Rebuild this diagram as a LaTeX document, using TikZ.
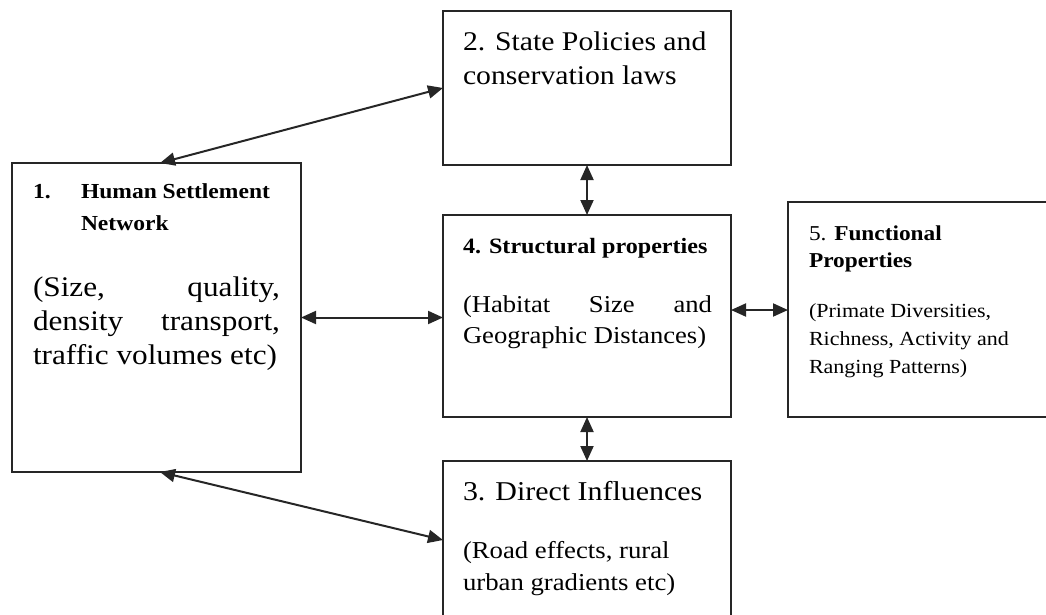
\documentclass[tikz,border=0pt]{standalone}
\usepackage{fontspec}
\setmainfont{Liberation Serif}[FakeStretch=1.1]
\usetikzlibrary{arrows.meta}
\tikzset{
  box/.style={draw=black!85, line width=2pt, inner sep=0pt, outer sep=0pt, fill=white},
  txt/.style={inner sep=0pt, outer sep=0pt, anchor=base west, text=black},
  link/.style={line width=2pt, draw=black!85, {Triangle[length=15pt,width=13pt]}-{Triangle[length=15pt,width=13pt]}}
}
\newcommand{\fs}[1]{\fontsize{#1}{#1}\selectfont}
\begin{document}
\begin{tikzpicture}[x=1pt,y=-1pt]
\useasboundingbox (0,0) rectangle (1046,614);
% boxes
\node[box, minimum width=289pt, minimum height=309pt] (b1) at (156.5,317.5) {};
\node[box, minimum width=288pt, minimum height=154pt] (b2) at (587,88) {};
\node[box, minimum width=288pt, minimum height=202pt] (b4) at (587,316) {};
\node[box, minimum width=272pt, minimum height=215pt] (b5) at (924,309.5) {};
\node[box, minimum width=288pt, minimum height=179pt] (b3) at (587,550.5) {};
% box 1 text
\node[txt] (t1n) at (33,198) {\fs{21.4}\bfseries 1.};
\node[txt] (t1a) at (81,198) {\fs{21.4}\bfseries Human Settlement};
\node[txt] (t1b) at (81,230) {\fs{21.4}\bfseries Network};
\node[txt] (t1c) at (33,296) {\fs{28.4}\hbox to 247pt{(Size,\hfill quality,}};
\node[txt] (t1d) at (33,330) {\fs{28.4}\hbox to 247pt{density\hfill transport,}};
\node[txt] (t1e) at (33,364) {\fs{28.4}traffic volumes etc)};
% box 2 text
\node[txt] (t2a) at (463,50) {\fs{27}2. State Policies and};
\node[txt] (t2b) at (463,84) {\fs{27}conservation laws};
% box 4 text
\node[txt] (t4a) at (463,253) {\fs{21.9}\bfseries 4. Structural properties};
\node[txt] (t4b) at (463,312) {\fs{24.2}\hbox to 249pt{(Habitat\hfill Size\hfill and}};
\node[txt] (t4c) at (463,343) {\fs{24.2}Geographic Distances)};
% box 5 text
\node[txt] (t5a) at (809,240) {\fs{21.2}5. \bfseries Functional};
\node[txt] (t5b) at (809,267) {\fs{21.2}\bfseries Properties};
\node[txt] (t5c) at (809,317) {\fs{20}(Primate Diversities,};
\node[txt] (t5d) at (809,345) {\fs{20}Richness, Activity and};
\node[txt] (t5e) at (809,373) {\fs{20}Ranging Patterns)};
% box 3 text
\node[txt] (t3a) at (463,500) {\fs{27.2}3. Direct Influences};
\node[txt] (t3b) at (463,558) {\fs{24.3}(Road effects, rural};
\node[txt] (t3c) at (463,590) {\fs{24.3}urban gradients etc)};
% connectors
\draw[link] ([xshift=148pt]b1.north west) -- ([yshift=-77pt]b2.north west);
\draw[link] (b2.south) -- (b4.north);
\draw[link] (b1.east) -- (b1.east -| b4.west);
\draw[link] ([yshift=6pt]b4.east) -- ([yshift=6pt]b4.east -| b5.west);
\draw[link] (b4.south) -- (b3.north);
\draw[link] ([xshift=148pt]b1.south west) -- ([yshift=-79pt]b3.north west);
\end{tikzpicture}
\end{document}
